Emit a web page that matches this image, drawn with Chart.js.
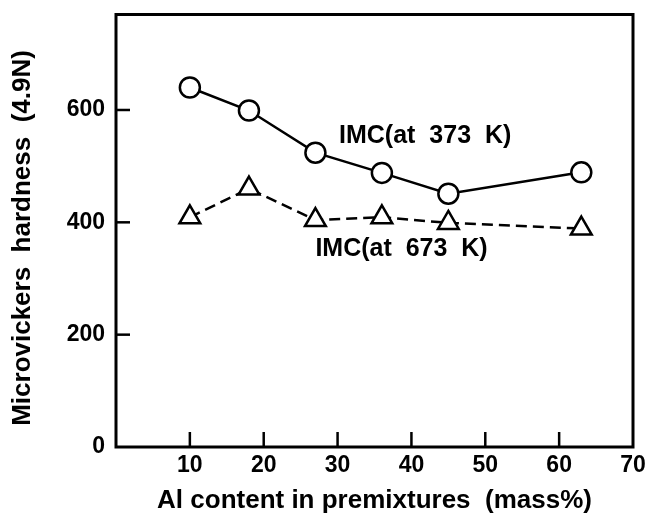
<!DOCTYPE html>
<html>
<head>
<meta charset="utf-8">
<script src="https://cdn.jsdelivr.net/npm/chart.js@4.4.1/dist/chart.umd.min.js"></script>
<style>
  html, body { margin: 0; padding: 0; background: #fff; }
  #wrap { width: 650px; height: 516px; }
</style>
</head>
<body>
<div id="wrap"><canvas id="chart" width="650" height="516"></canvas></div>
<script>
// --- DATA ---
const alContent = [10, 18, 27, 36, 45, 63];
const hardness373 = [640, 599, 524, 488, 451, 489];
const hardness673 = [409, 460, 404, 409, 399, 389];
const xTicks = [10, 20, 30, 40, 50, 60, 70];
const yTicks = [0, 200, 400, 600];
const labels = [
    { text: 'IMC(at  373  K)', x: 30.2, y: 553 },
    { text: 'IMC(at  673  K)', x: 27.0, y: 352 }
];

const FONT = "'Liberation Sans', Arial, Helvetica, sans-serif";

// --- FRAME, INWARD TICKS AND CURVE LABELS ---
const framePlugin = {
    id: 'frame',
    afterDraw(chart) {
        const { ctx, chartArea: a, scales } = chart;
        ctx.save();
        ctx.strokeStyle = '#000';
        ctx.lineWidth = 3;
        ctx.strokeRect(a.left, a.top, a.right - a.left, a.bottom - a.top);

        ctx.lineWidth = 2.5;
        xTicks.forEach(v => {
            if (v >= 70) return;
            const px = scales.x.getPixelForValue(v);
            ctx.beginPath();
            ctx.moveTo(px, a.bottom);
            ctx.lineTo(px, a.bottom - 15);
            ctx.stroke();
        });
        yTicks.forEach(v => {
            if (v === 0) return;
            const py = scales.y.getPixelForValue(v);
            ctx.beginPath();
            ctx.moveTo(a.left, py);
            ctx.lineTo(a.left + 14, py);
            ctx.stroke();
        });

        ctx.fillStyle = '#000';
        ctx.font = 'bold 25px ' + FONT;
        ctx.textBaseline = 'middle';
        labels.forEach(l => {
            ctx.fillText(l.text, scales.x.getPixelForValue(l.x), scales.y.getPixelForValue(l.y));
        });
        ctx.restore();
    }
};

new Chart(document.getElementById('chart'), {
    type: 'line',
    data: {
        datasets: [{
            label: 'IMC(at 373 K)',
            data: alContent.map((x, i) => ({ x, y: hardness373[i] })),
            borderColor: '#000',
            borderWidth: 2.5,
            pointStyle: 'circle',
            pointRadius: 10,
            pointBorderWidth: 2.5,
            pointBackgroundColor: '#fff',
            pointBorderColor: '#000'
        }, {
            label: 'IMC(at 673 K)',
            data: alContent.map((x, i) => ({ x, y: hardness673[i] })),
            borderColor: '#000',
            borderWidth: 2.5,
            borderDash: [11, 6],
            pointStyle: 'triangle',
            pointRadius: 12,
            pointBorderWidth: 2.5,
            pointBackgroundColor: '#fff',
            pointBorderColor: '#000'
        }]
    },
    options: {
        responsive: false,
        animation: false,
        layout: { padding: { top: 7, right: 17, left: 0, bottom: 0 } },
        plugins: { legend: { display: false }, tooltip: { enabled: false } },
        scales: {
            x: {
                type: 'linear',
                min: 0,
                max: 70,
                afterBuildTicks: s => { s.ticks = xTicks.map(v => ({ value: v })); },
                afterFit: s => { s.height = 69; s.paddingLeft = 0; s.paddingRight = 0; },
                grid: { display: false, drawTicks: false },
                border: { display: false },
                ticks: { color: '#000', padding: 5, font: { family: FONT, size: 23, weight: 'bold' } },
                title: {
                    display: true,
                    text: 'Al content in premixtures  (mass%)',
                    color: '#000',
                    padding: { top: 0, bottom: 0 },
                    font: { family: FONT, size: 26, weight: 'bold' }
                }
            },
            y: {
                min: 0,
                max: 770,
                afterBuildTicks: s => { s.ticks = yTicks.map(v => ({ value: v })); },
                afterFit: s => { s.width = 116; s.paddingTop = 0; s.paddingBottom = 0; },
                grid: { display: false, drawTicks: false },
                border: { display: false },
                ticks: { color: '#000', padding: 11, font: { family: FONT, size: 23, weight: 'bold' } },
                title: {
                    display: true,
                    text: 'Microvickers  hardness  (4.9N)  ',
                    color: '#000',
                    padding: { top: 7, bottom: 0 },
                    font: { family: FONT, size: 26, weight: 'bold' }
                }
            }
        }
    },
    plugins: [framePlugin]
});
</script>
</body>
</html>
